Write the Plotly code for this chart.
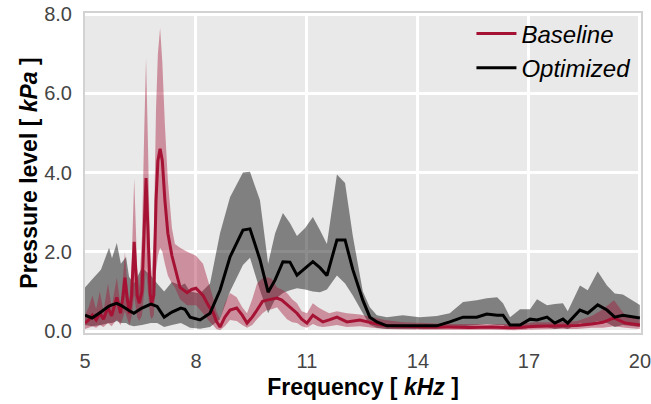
import plotly.graph_objects as go

# Baseline design: mean pressure level and its min/max envelope (kHz, kPa)
base_freq = [5.00, 5.10, 5.20, 5.30, 5.40, 5.50, 5.62, 5.72, 5.86, 5.96, 6.03, 6.08, 6.13, 6.20,
             6.26, 6.33, 6.41, 6.47, 6.54, 6.60, 6.65, 6.70, 6.76, 6.80, 6.86, 6.92, 6.97, 7.03,
             7.09, 7.16, 7.24, 7.35, 7.43, 7.57, 7.76, 7.88, 8.00, 8.19, 8.35, 8.46, 8.55, 8.65,
             8.78, 8.92, 9.10, 9.25, 9.38, 9.52, 9.65, 9.80, 9.92, 10.05, 10.19, 10.32, 10.46,
             10.60, 10.73, 10.86, 11.00, 11.16, 11.30, 11.43, 11.60, 11.81, 12.08, 12.43, 12.78,
             13.10, 13.60, 14.20, 14.80, 15.40, 16.00, 16.60, 17.20, 17.80, 18.30, 18.70, 19.00,
             19.30, 19.60, 20.00]
base_mean = [0.20, 0.28, 0.40, 0.28, 0.45, 0.30, 0.60, 0.38, 0.85, 0.45, 0.90, 1.35, 0.90, 0.45,
             0.90, 2.25, 0.90, 0.70, 1.00, 2.60, 3.86, 2.60, 0.95, 0.70, 0.90, 3.30, 4.30, 4.60,
             4.30, 3.30, 2.47, 1.90, 1.62, 1.10, 0.97, 1.05, 1.08, 0.90, 0.62, 0.48, 0.25, 0.10,
             0.35, 0.53, 0.58, 0.40, 0.20, 0.35, 0.53, 0.75, 0.78, 0.80, 0.83, 0.78, 0.66,
             0.55, 0.45, 0.30, 0.20, 0.40, 0.30, 0.23, 0.28, 0.35, 0.23, 0.28, 0.20,
             0.14, 0.12, 0.10, 0.10, 0.09, 0.10, 0.08, 0.12, 0.13, 0.14, 0.18, 0.22,
             0.33, 0.20, 0.15]
base_lo = [0.05, 0.08, 0.12, 0.08, 0.15, 0.10, 0.20, 0.12, 0.30, 0.15, 0.35, 0.50, 0.35, 0.15,
           0.35, 0.90, 0.35, 0.25, 0.40, 1.00, 1.60, 1.00, 0.40, 0.30, 0.40, 1.50, 1.90, 2.10,
           2.00, 1.70, 1.40, 1.20, 1.10, 0.80, 0.65, 0.65, 0.65, 0.45, 0.25, 0.15, 0.05, 0.02,
           0.12, 0.28, 0.25, 0.15, 0.08, 0.15, 0.30, 0.45, 0.53, 0.55, 0.60, 0.45, 0.30,
           0.22, 0.20, 0.12, 0.08, 0.18, 0.12, 0.10, 0.12, 0.15, 0.10, 0.12, 0.08,
           0.05, 0.04, 0.03, 0.03, 0.03, 0.03, 0.02, 0.04, 0.05, 0.05, 0.08, 0.08,
           0.12, 0.08, 0.05]
base_hi = [0.40, 0.60, 0.90, 0.55, 1.00, 0.50, 1.20, 0.60, 1.35, 0.65, 1.40, 2.00, 1.30, 0.75,
           1.70, 3.86, 1.60, 1.10, 2.40, 5.00, 6.90, 4.80, 2.00, 1.40, 2.40, 5.60, 7.00, 7.65,
           6.80, 5.20, 3.80, 2.60, 2.20, 2.10, 2.00, 1.95, 1.90, 1.70, 1.20, 0.85, 0.50, 0.30,
           0.70, 0.96, 0.85, 0.60, 0.45, 0.80, 1.20, 1.33, 1.36, 1.32, 1.10, 1.05, 0.96,
           0.80, 0.70, 0.50, 0.45, 0.70, 0.60, 0.53, 0.45, 0.50, 0.45, 0.42, 0.35,
           0.28, 0.22, 0.20, 0.18, 0.18, 0.17, 0.18, 0.22, 0.22, 0.25, 0.38, 0.55,
           0.78, 0.40, 0.28]

# Optimized design: mean pressure level and its min/max envelope (kHz, kPa)
opt_freq = [5.00, 5.19, 5.43, 5.65, 5.73, 5.86, 5.97, 6.11, 6.19, 6.32, 6.54, 6.78, 6.95, 7.14,
            7.35, 7.59, 7.70, 7.84, 8.11, 8.38, 8.65, 8.92, 9.27, 9.46, 9.73, 9.95, 10.14, 10.35,
            10.54, 10.73, 10.95, 11.16, 11.35, 11.54, 11.81, 12.03, 12.24, 12.51, 12.70, 12.89,
            13.16, 13.59, 14.05, 14.51, 14.86, 15.22, 15.59, 15.86, 16.14, 16.30, 16.49, 16.76,
            17.03, 17.22, 17.49, 17.70, 17.92, 18.05, 18.38, 18.59, 18.86, 19.11, 19.32, 19.54,
            20.00]
opt_mean = [0.40, 0.33, 0.48, 0.63, 0.66, 0.70, 0.65, 0.58, 0.52, 0.45, 0.58, 0.68, 0.62, 0.35,
            0.48, 0.58, 0.55, 0.35, 0.28, 0.45, 1.03, 1.87, 2.55, 2.58, 1.80, 0.98, 1.29, 1.75,
            1.74, 1.41, 1.59, 1.75, 1.60, 1.40, 2.30, 2.30, 1.55, 0.78, 0.35, 0.23,
            0.13, 0.13, 0.13, 0.13, 0.23, 0.35, 0.35, 0.43, 0.40, 0.40, 0.15, 0.15,
            0.30, 0.28, 0.35, 0.20, 0.30, 0.20, 0.53, 0.45, 0.66, 0.53, 0.35, 0.40,
            0.33]
opt_lo = [0.15, 0.12, 0.15, 0.20, 0.20, 0.25, 0.20, 0.20, 0.15, 0.12, 0.15, 0.20, 0.20, 0.10,
          0.15, 0.20, 0.15, 0.08, 0.06, 0.10, 0.30, 1.00, 1.67, 1.85, 1.03, 0.45, 0.80, 0.96,
          1.03, 1.08, 1.05, 1.00, 0.98, 1.05, 1.40, 1.20, 0.90, 0.45, 0.15, 0.08,
          0.05, 0.05, 0.05, 0.05, 0.08, 0.12, 0.15, 0.18, 0.15, 0.15, 0.05, 0.05,
          0.08, 0.08, 0.10, 0.05, 0.08, 0.05, 0.20, 0.15, 0.25, 0.20, 0.10, 0.15,
          0.10]
opt_hi = [1.10, 1.30, 1.55, 2.10, 1.84, 2.22, 1.70, 1.87, 1.37, 1.20, 1.60, 1.40, 1.20, 1.00,
          1.24, 1.15, 1.20, 1.00, 0.95, 1.20, 2.47, 3.38, 4.00, 4.02, 3.30, 1.70, 2.47, 2.98,
          2.73, 2.40, 2.60, 2.88, 2.55, 2.20, 3.95, 3.74, 2.40, 1.00, 0.60, 0.40,
          0.35, 0.40, 0.35, 0.38, 0.45, 0.73, 0.78, 0.83, 0.85, 0.70, 0.35, 0.55,
          0.55, 0.80, 0.65, 0.68, 0.70, 0.50, 1.15, 1.03, 1.50, 1.15, 0.95, 0.92,
          0.66]

x_ticks = [5, 8, 11, 14, 17, 20]
y_ticks = [0, 2, 4, 6, 8]

RED = "rgb(165,18,52)"
FONT = "Liberation Sans, Arial, sans-serif"


def envelope(freq, lo, hi, fill):
    return go.Scatter(
        x=list(freq) + list(freq)[::-1],
        y=list(hi) + list(lo)[::-1],
        fill="toself", fillcolor=fill, mode="none",
        hoverinfo="skip", showlegend=False,
    )


fig = go.Figure()
fig.add_trace(envelope(opt_freq, opt_lo, opt_hi, "rgba(0,0,0,0.45)"))
fig.add_trace(envelope(base_freq, base_lo, base_hi, "rgba(165,18,52,0.42)"))
fig.add_trace(go.Scatter(x=base_freq, y=base_mean, mode="lines", name="Baseline",
                         line=dict(color=RED, width=3)))
fig.add_trace(go.Scatter(x=opt_freq, y=opt_mean, mode="lines", name="Optimized",
                         line=dict(color="black", width=3)))

axis_common = dict(
    showgrid=True, gridcolor="white", gridwidth=2.5, zeroline=False,
    showline=True, linecolor="#d2d2d2", linewidth=2, mirror=True,
    ticks="outside", tickcolor="rgba(0,0,0,0)",
    tickfont=dict(family=FONT, size=20, color="#444444"),
    automargin=False, ticklabeloverflow="allow",
)

fig.update_xaxes(
    range=[5, 20.03], tickvals=x_ticks, ticktext=[str(v) for v in x_ticks], ticklen=9,
    title=dict(text="<b>Frequency [ <i>kHz</i> ]</b>", font=dict(family=FONT, size=23, color="black"),
               standoff=8),
    **axis_common,
)
fig.update_yaxes(
    range=[-0.05, 8.03], tickvals=y_ticks, tickformat=".1f", ticklen=7,
    title=dict(text="<b>Pressure level [ <i>kPa</i> ]</b>", font=dict(family=FONT, size=23, color="black"),
               standoff=0),
    **axis_common,
)

fig.update_layout(
    width=651, height=404,
    margin=dict(l=85, r=10, t=13, b=71),
    paper_bgcolor="white", plot_bgcolor="#e9e9e9",
    showlegend=True,
    legend=dict(
        x=0.99, y=1.005, xanchor="right", yanchor="top",
        bgcolor="rgba(0,0,0,0)", borderwidth=0,
        font=dict(family=FONT, size=24, color="black", style="italic"),
        tracegroupgap=0, itemwidth=40,
    ),
)

fig.write_html("out.html")
